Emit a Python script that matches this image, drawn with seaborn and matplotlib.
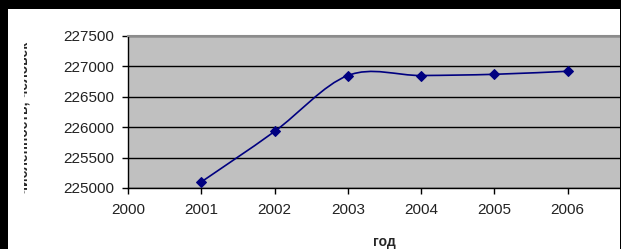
import numpy as np
import matplotlib
matplotlib.use("Agg")
import matplotlib.pyplot as plt
from matplotlib.path import Path
from matplotlib.patches import PathPatch, Rectangle
import seaborn as sns

years = [2001, 2002, 2003, 2004, 2005, 2006]
population = [225100, 225930, 226850, 226850, 226870, 226920]
x_ticks = [2000, 2001, 2002, 2003, 2004, 2005, 2006]
y_ticks = [225000, 225500, 226000, 226500, 227000, 227500]
x_label = "год"
y_label = "численность, человек"

sns.set_style("white")
plt.rcParams['font.family'] = ['Liberation Sans', 'DejaVu Sans']

W, H = 621, 249
fig = plt.figure(figsize=(W / 100, H / 100), dpi=100)
fig.patch.set_facecolor("black")
# white chart area inside black frame
fig.patches.append(Rectangle((8 / W, 0), (620 - 8) / W, (H - 9) / H,
                             transform=fig.transFigure, facecolor="white",
                             edgecolor="none", zorder=-5))

ax = fig.add_axes([128 / W, (H - 188) / H, (641 - 128) / W, (188 - 36) / H])
ax.set_zorder(1)
ax.set_facecolor("#c0c0c0")

navy = "#000080"
# smoothed line (Catmull-Rom -> cubic Bezier) through the data points
xs = np.array(years, dtype=float)
ys = np.array(population, dtype=float)
pts = np.column_stack([xs, ys])
verts = [tuple(pts[0])]
codes = [Path.MOVETO]
n = len(pts)
for i in range(n - 1):
    p0 = pts[i - 1] if i > 0 else pts[i]
    p1 = pts[i]
    p2 = pts[i + 1]
    p3 = pts[i + 2] if i + 2 < n else pts[i + 1]
    c1 = p1 + (p2 - p0) / 6.0
    c2 = p2 - (p3 - p1) / 6.0
    verts += [tuple(c1), tuple(c2), tuple(p2)]
    codes += [Path.CURVE4] * 3
ax.add_patch(PathPatch(Path(verts, codes), facecolor="none", edgecolor=navy,
                       lw=1.2, zorder=3))

sns.lineplot(x=years, y=population, ax=ax, marker="D", markersize=5.5,
             linestyle="", color=navy, markeredgecolor=navy, zorder=4)

ax.set_xlim(2000, 2007)
ax.set_ylim(225000, 227500)
ax.set_xticks(x_ticks)
ax.set_xticklabels([str(t) for t in x_ticks])
ax.set_yticks(y_ticks)
ax.set_yticklabels([str(t) for t in y_ticks])

ax.yaxis.grid(True, color="black", lw=1.0)
ax.xaxis.grid(False)
ax.set_axisbelow(True)

for s in ["left", "bottom"]:
    ax.spines[s].set_color("black")
    ax.spines[s].set_linewidth(1.0)
ax.spines["top"].set_color("#8c8c8c")
ax.spines["top"].set_linewidth(1.5)
ax.spines["right"].set_visible(False)

ax.tick_params(axis="both", which="major", direction="out", length=4,
               width=1, color="black", labelsize=11, labelcolor="#222222",
               left=True, bottom=True)
ax.tick_params(axis="y", pad=6)
ax.tick_params(axis="x", pad=7)

ax.set_xlabel(x_label, fontsize=10, fontweight="bold", labelpad=13)
ax.set_ylabel("")

fig.text(31 / W, 1 - 118 / H, y_label, rotation=90, ha="right", va="center",
         fontsize=10, fontweight="bold", zorder=2)
# clip the left part of the y label like the reference
fig.patches.append(Rectangle((8 / W, 0), (24 - 8) / W, (H - 9) / H,
                             transform=fig.transFigure, facecolor="white",
                             edgecolor="none", zorder=5))
# black right border over the plot area
fig.patches.append(Rectangle((619.5 / W, 0), 2 / W, 1,
                             transform=fig.transFigure, facecolor="black",
                             edgecolor="none", zorder=6))

fig.savefig("out.png", dpi=100, facecolor=fig.get_facecolor())
